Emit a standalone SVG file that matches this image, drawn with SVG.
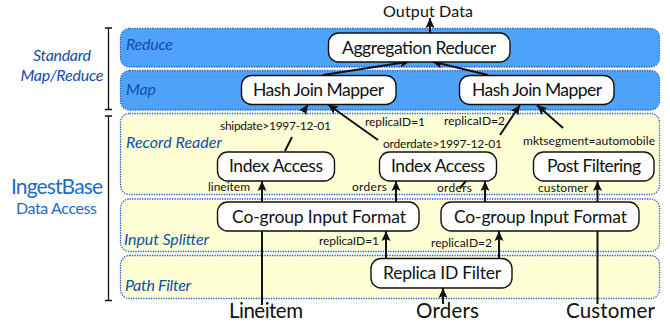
<svg xmlns="http://www.w3.org/2000/svg" width="670" height="327" viewBox="0 0 670 327">
<style>
text{font-family:Lato,"Open Sans",sans-serif;fill:#111}
.band{stroke:#1f5fc0;stroke-width:1.3;stroke-dasharray:1.3 1.2}
.blue{fill:#4fa2fa}.yel{fill:#ffffd6}
.node rect{fill:#fff;stroke:#111;stroke-width:1.4}
.node text{font-size:17.500px;text-anchor:middle}
.lay{font-size:16px;font-style:italic;fill:#0f4ea8}
.lab{font-size:12px}
.src{font-size:20.500px;text-anchor:middle}
.c line{stroke:#111;stroke-width:2;marker-end:url(#a)}
.c path{stroke:#111;stroke-width:2;fill:none}
.b{stroke:#111;stroke-width:1.3;fill:none}
</style>
<defs><marker id="a" markerUnits="userSpaceOnUse" markerWidth="11" markerHeight="11" refX="10" refY="5" orient="auto"><path d="M0 0.500L10 5L0 9.500L2 5Z" fill="#111"/></marker></defs>
<rect x="0" y="0" width="670" height="327" fill="#fff"/>
<g id="bands">
<rect class="band blue" x="120.500" y="28.500" width="539" height="38.500" rx="9"/>
<rect class="band blue" x="120.500" y="70.500" width="539" height="39.500" rx="9"/>
<rect class="band yel" x="120.500" y="113.500" width="539" height="81" rx="9"/>
<rect class="band yel" x="120.500" y="199" width="539" height="52.500" rx="9"/>
<rect class="band yel" x="120.500" y="255.500" width="539" height="43" rx="9"/>
</g>
<g id="layer-labels">
<text class="lay" x="126" y="50" textLength="47">Reduce</text>
<text class="lay" x="126" y="95" textLength="30">Map</text>
<text class="lay" x="126" y="148" textLength="96">Record Reader</text>
<text class="lay" x="124" y="245" textLength="85">Input Splitter</text>
<text class="lay" x="125" y="291" textLength="66">Path Filter</text>
<text class="lay" x="62" y="61" text-anchor="middle" textLength="58">Standard</text>
<text class="lay" x="62" y="81" text-anchor="middle" textLength="83">Map/Reduce</text>
<text x="57" y="194" text-anchor="middle" font-size="21" style="fill:#1a6cc8" textLength="92">IngestBase</text>
<text x="56.500" y="214" text-anchor="middle" font-size="16" style="fill:#1a6cc8" textLength="81">Data Access</text>
</g>
<g id="brackets">
<path class="b" d="M105 28H112M108.500 28V109.500M105 109.500H112"/>
<path class="b" d="M105 116H112M108.500 116V300.500M105 300.500H112"/>
</g>
<g id="connectors" class="c">
<line x1="430" y1="33" x2="430" y2="18"/>
<line x1="323" y1="75" x2="410" y2="61.500"/>
<line x1="488" y1="75" x2="432" y2="61.500"/>
<path d="M285 151L292 137"/>
<line x1="303" y1="112" x2="308" y2="104.500"/>
<line x1="378" y1="140" x2="328" y2="104.500"/>
<line x1="500" y1="135" x2="520" y2="105"/>
<line x1="563" y1="128" x2="537" y2="105"/>
<line x1="262" y1="203" x2="262" y2="181"/>
<line x1="396" y1="203" x2="396" y2="181"/>
<line x1="485" y1="203" x2="485" y2="181"/>
<line x1="597.500" y1="203" x2="597.500" y2="181"/>
<line x1="386" y1="259" x2="386" y2="231"/>
<line x1="499" y1="259" x2="499" y2="231"/>
<line x1="443" y1="304" x2="443" y2="288"/>
<path d="M262 305V231M597.500 304V231M466 181L460 188"/>
</g>
<g id="output"><text class="src" x="428" y="17" style="font-size:16px" textLength="90">Output Data</text></g>
<g id="aggregation" class="node"><rect x="328.500" y="33" width="181.500" height="29" rx="10"/><text x="419" y="54" textLength="154">Aggregation Reducer</text></g>
<g id="hash1" class="node"><rect x="241.500" y="75.500" width="154.500" height="29" rx="10"/><text x="318.500" y="96" textLength="131">Hash Join Mapper</text></g>
<g id="hash2" class="node"><rect x="459.500" y="75.500" width="154.500" height="29" rx="10"/><text x="537" y="96" textLength="130">Hash Join Mapper</text></g>
<g id="index1" class="node"><rect x="217.500" y="152" width="117" height="29" rx="10"/><text x="276" y="172" textLength="94">Index Access</text></g>
<g id="index2" class="node"><rect x="379.500" y="152" width="117" height="29" rx="10"/><text x="438" y="172" textLength="94">Index Access</text></g>
<g id="post" class="node"><rect x="533.500" y="152" width="120.500" height="29" rx="10"/><text x="594" y="172" textLength="94">Post Filtering</text></g>
<g id="cogroup1" class="node"><rect x="217.500" y="202" width="201.500" height="29" rx="10"/><text x="319" y="223" textLength="174">Co-group Input Format</text></g>
<g id="cogroup2" class="node"><rect x="441" y="202" width="198" height="29" rx="10"/><text x="540.500" y="223" textLength="173">Co-group Input Format</text></g>
<g id="replica" class="node"><rect x="371" y="258.500" width="141" height="29.500" rx="10"/><text x="442" y="279" textLength="118">Replica ID Filter</text></g>
<g id="edge-labels">
<text class="lab" x="220" y="130" textLength="111">shipdate&gt;1997-12-01</text>
<text class="lab" x="365" y="126" textLength="60">replicaID=1</text>
<text class="lab" x="444" y="125" textLength="61">replicaID=2</text>
<text class="lab" x="383" y="148" textLength="119">orderdate&gt;1997-12-01</text>
<text class="lab" x="523" y="144.500" textLength="132">mktsegment=automobile</text>
<text class="lab" x="208" y="191" textLength="42">lineitem</text>
<text class="lab" x="352" y="191" textLength="35">orders</text>
<text class="lab" x="437" y="192" textLength="35">orders</text>
<text class="lab" x="538" y="192" textLength="50">customer</text>
<text class="lab" x="319" y="245" textLength="60">replicaID=1</text>
<text class="lab" x="431" y="247" textLength="61">replicaID=2</text>
</g>
<g id="sources">
<text class="src" x="266" y="318" textLength="74">Lineitem</text>
<text class="src" x="447.500" y="318" textLength="63">Orders</text>
<text class="src" x="610.500" y="318" textLength="89">Customer</text>
</g>
</svg>
